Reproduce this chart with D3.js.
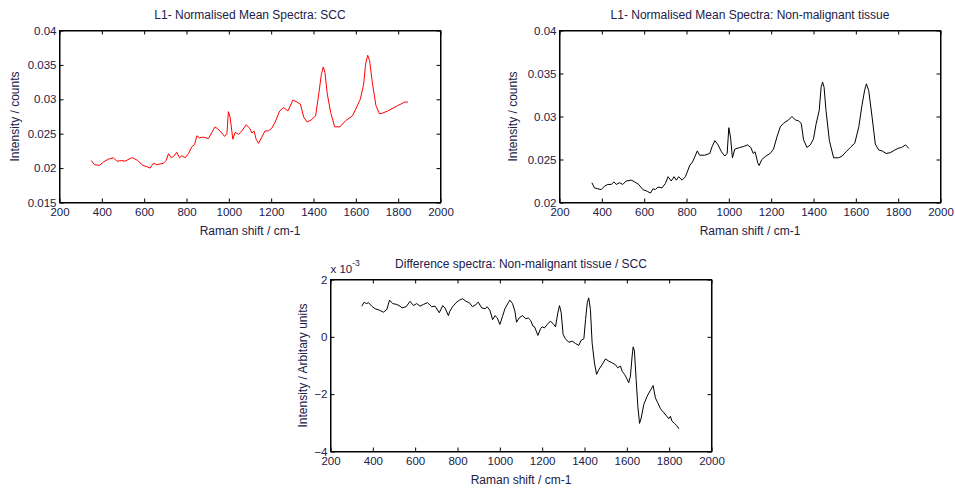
<!DOCTYPE html>
<html>
<head>
<meta charset="utf-8">
<script src="https://cdn.jsdelivr.net/npm/d3@7"></script>
<style>
  html, body { margin: 0; padding: 0; background: #fff; }
  svg { display: block; font-family: "Liberation Sans", Arial, sans-serif; }
  .tick text { fill: #202048; font-size: 11.5px; }
  .lbl { fill: #202048; font-size: 12px; }
</style>
</head>
<body>
<svg id="chart" width="955" height="492"></svg>
<script>
// ── Data (Raman shift in cm-1) ───────────────────────────────────────────────
const xTicks = [200, 400, 600, 800, 1000, 1200, 1400, 1600, 1800, 2000];

// Top-left: SCC mean spectrum (red)
const sccSpectrum = [
  [350,0.0211],[365,0.0205],[389,0.0204],[408,0.0209],[431,0.0213],[455,0.0215],
  [471,0.0210],[494,0.0211],[510,0.0210],[534,0.0214],[546,0.0215],[569,0.0211],
  [594,0.0204],[613,0.0202],[628,0.0200],[644,0.0207],[660,0.0205],[691,0.0207],
  [704,0.0211],[715,0.0221],[728,0.0215],[739,0.0217],[754,0.0223],[767,0.0215],
  [778,0.0218],[794,0.0215],[809,0.0221],[825,0.0231],[838,0.0234],[849,0.0247],
  [861,0.0244],[880,0.0245],[904,0.0243],[920,0.0252],[935,0.0260],[959,0.0254],
  [980,0.0246],[991,0.0250],[998,0.0282],[1006,0.0274],[1019,0.0242],[1030,0.0252],
  [1046,0.0249],[1061,0.0254],[1082,0.0263],[1098,0.0258],[1109,0.0251],[1119,0.0254],
  [1129,0.0242],[1140,0.0236],[1156,0.0245],[1171,0.0254],[1187,0.0254],[1203,0.0258],
  [1219,0.0267],[1240,0.0283],[1259,0.0288],[1279,0.0283],[1303,0.0299],[1322,0.0296],
  [1338,0.0293],[1354,0.0274],[1370,0.0267],[1389,0.0270],[1410,0.0276],[1425,0.0308],
  [1437,0.0336],[1446,0.0347],[1454,0.0339],[1465,0.0308],[1481,0.0281],[1500,0.0260],
  [1525,0.0260],[1552,0.0269],[1584,0.0276],[1600,0.0286],[1621,0.0300],[1637,0.0322],
  [1646,0.0351],[1656,0.0364],[1665,0.0356],[1679,0.0322],[1695,0.0291],[1711,0.0279],
  [1727,0.0280],[1751,0.0283],[1775,0.0287],[1798,0.0291],[1819,0.0294],[1830,0.0296],
  [1846,0.0296]
];
const sccTicks = [0.015, 0.02, 0.025, 0.03, 0.035, 0.04];

// Top-right: non-malignant tissue mean spectrum (black)
const normalSpectrum = [
  [353,0.0223],[365,0.0217],[381,0.0216],[397,0.0215],[413,0.0219],[428,0.0221],
  [444,0.0221],[457,0.0224],[468,0.0221],[484,0.0223],[499,0.0221],[515,0.0225],
  [539,0.0226],[555,0.0224],[574,0.0221],[594,0.0215],[615,0.0213],[630,0.0211],
  [642,0.0216],[653,0.0215],[665,0.0218],[684,0.0217],[700,0.0222],[713,0.0230],
  [728,0.0225],[741,0.0230],[752,0.0226],[763,0.0230],[779,0.0226],[795,0.0230],
  [815,0.0243],[828,0.0247],[839,0.0253],[851,0.0260],[862,0.0255],[886,0.0255],
  [910,0.0257],[921,0.0265],[934,0.0272],[949,0.0267],[965,0.0259],[981,0.0254],
  [992,0.0257],[1000,0.0287],[1008,0.0276],[1017,0.0252],[1028,0.0262],[1052,0.0264],
  [1068,0.0265],[1088,0.0267],[1104,0.0264],[1115,0.0257],[1124,0.0259],[1137,0.0246],
  [1143,0.0243],[1156,0.0250],[1175,0.0254],[1195,0.0257],[1211,0.0262],[1227,0.0276],
  [1243,0.0288],[1258,0.0292],[1282,0.0296],[1298,0.0300],[1314,0.0296],[1329,0.0295],
  [1342,0.0292],[1353,0.0273],[1369,0.0264],[1385,0.0267],[1400,0.0274],[1412,0.0291],
  [1427,0.0307],[1436,0.0334],[1443,0.0340],[1450,0.0334],[1459,0.0307],[1475,0.0272],
  [1495,0.0252],[1519,0.0252],[1535,0.0254],[1554,0.0259],[1574,0.0264],[1595,0.0269],
  [1614,0.0288],[1629,0.0313],[1642,0.0331],[1650,0.0338],[1661,0.0330],[1677,0.0299],
  [1692,0.0268],[1708,0.0261],[1724,0.0260],[1743,0.0257],[1764,0.0258],[1784,0.0261],
  [1800,0.0263],[1816,0.0264],[1835,0.0267],[1850,0.0263]
];
const normalTicks = [0.02, 0.025, 0.03, 0.035, 0.04];

// Bottom: difference spectrum, values in units of 1e-3
const diffSpectrum = [
  [348,1.07],[359,1.21],[369,1.16],[380,1.19],[395,1.07],[411,0.98],[431,0.93],
  [450,0.86],[466,0.95],[479,1.28],[494,1.16],[513,1.13],[529,1.07],[538,1.01],
  [557,1.05],[576,1.24],[592,1.09],[607,1.16],[623,1.07],[639,1.13],[658,1.19],
  [678,1.05],[694,1.07],[714,0.84],[730,1.09],[741,1.01],[757,0.74],[764,0.90],
  [777,1.05],[793,1.19],[809,1.28],[824,1.33],[840,1.24],[856,1.19],[871,1.05],
  [887,1.13],[898,1.21],[914,1.01],[930,0.98],[940,1.05],[953,0.93],[966,0.60],
  [977,0.74],[988,0.66],[1000,0.43],[1013,0.72],[1024,0.98],[1040,1.19],[1047,1.28],
  [1060,1.16],[1071,0.90],[1079,0.51],[1091,0.66],[1107,0.74],[1123,0.63],[1134,0.66],
  [1145,0.58],[1157,0.37],[1164,0.35],[1180,0.05],[1192,0.28],[1200,0.35],[1211,0.31],
  [1224,0.43],[1239,0.55],[1255,0.43],[1263,0.35],[1274,0.84],[1282,1.09],[1290,0.84],
  [1299,0.08],[1310,-0.07],[1326,-0.19],[1342,-0.15],[1357,-0.23],[1373,-0.30],
  [1384,-0.12],[1397,-0.07],[1405,0.60],[1413,1.19],[1420,1.36],[1428,0.95],
  [1436,-0.21],[1447,-0.91],[1457,-1.31],[1468,-1.14],[1483,-0.97],[1499,-0.77],
  [1515,-0.85],[1531,-0.91],[1546,-0.97],[1557,-1.08],[1570,-1.02],[1578,-1.20],
  [1589,-1.31],[1598,-1.43],[1609,-1.60],[1617,-1.37],[1625,-0.67],[1630,-0.35],
  [1636,-0.50],[1644,-1.49],[1652,-2.42],[1660,-3.02],[1668,-2.83],[1680,-2.36],
  [1696,-2.07],[1712,-1.86],[1724,-1.70],[1735,-2.13],[1746,-2.30],[1759,-2.51],
  [1775,-2.65],[1791,-2.79],[1798,-2.86],[1806,-2.77],[1813,-2.94],[1825,-3.02],
  [1835,-3.09],[1846,-3.21]
];
const diffTicks = [-4, -2, 0, 2];

// ── Panels ───────────────────────────────────────────────────────────────────
const PW = 381, PH = 172;
const svg = d3.select("#chart");

const panels = [
  { left: 59.5,  top: 30.5,  data: sccSpectrum,    yTicks: sccTicks,    color: "#ff0000",
    title: "L1- Normalised Mean Spectra: SCC", yLabel: "Intensity / counts", yLabelX: -40.5 },
  { left: 559.5, top: 30.5,  data: normalSpectrum, yTicks: normalTicks, color: "#000000",
    title: "L1- Normalised Mean Spectra: Non-malignant tissue", yLabel: "Intensity / counts", yLabelX: -42.5 },
  { left: 330.5, top: 279.5, data: diffSpectrum,   yTicks: diffTicks,   color: "#000000",
    title: "Difference spectra: Non-malignant tissue / SCC", yLabel: "Intensity / Arbitary units", yLabelX: -23.5,
    exponent: true }
];

panels.forEach(p => {
  const g = svg.append("g").attr("transform", `translate(${p.left},${p.top})`);
  const x = d3.scaleLinear().domain([200, 2000]).range([0, PW]);
  const y = d3.scaleLinear().domain(d3.extent(p.yTicks)).range([PH, 0]);
  const fmt = d3.format("~g");

  // axes, MATLAB-style: ticks point inward on all four sides
  g.append("g").attr("transform", `translate(0,${PH})`)
    .call(d3.axisBottom(x).tickValues(xTicks).tickSize(-4).tickSizeOuter(0).tickPadding(5).tickFormat(fmt));
  g.append("g")
    .call(d3.axisTop(x).tickValues(xTicks).tickSize(-4).tickSizeOuter(0).tickFormat(""));
  g.append("g")
    .call(d3.axisLeft(y).tickValues(p.yTicks).tickSize(-4).tickSizeOuter(0).tickPadding(3).tickFormat(fmt));
  g.append("g").attr("transform", `translate(${PW},0)`)
    .call(d3.axisRight(y).tickValues(p.yTicks).tickSize(-4).tickSizeOuter(0).tickFormat(""));
  g.selectAll(".domain").attr("stroke", "#000");
  g.selectAll(".tick line").attr("stroke", "#000");
  g.selectAll(".tick text").attr("font-family", null).attr("font-size", null);

  g.append("rect")
    .attr("width", PW).attr("height", PH)
    .attr("fill", "none").attr("stroke", "#000").attr("stroke-width", 1);

  // spectrum
  g.append("path")
    .datum(p.data)
    .attr("fill", "none")
    .attr("stroke", p.color)
    .attr("stroke-width", 1)
    .attr("stroke-linejoin", "round")
    .attr("d", d3.line().x(d => x(d[0])).y(d => y(d[1])));

  // labels
  g.append("text").attr("class", "lbl")
    .attr("x", PW / 2).attr("y", -11.5)
    .attr("text-anchor", "middle").text(p.title);
  g.append("text").attr("class", "lbl")
    .attr("x", PW / 2).attr("y", PH + 32)
    .attr("text-anchor", "middle").text("Raman shift / cm-1");
  g.append("text").attr("class", "lbl")
    .attr("transform", `translate(${p.yLabelX},${PH / 2}) rotate(-90)`)
    .attr("text-anchor", "middle").text(p.yLabel);

  if (p.exponent) {
    const t = g.append("text").attr("class", "lbl")
      .attr("x", 0).attr("y", -6.5).style("font-size", "11.5px");
    t.append("tspan").text("x 10");
    t.append("tspan").attr("dy", -7).style("font-size", "8.5px").text("-3");
  }
});
</script>
</body>
</html>
